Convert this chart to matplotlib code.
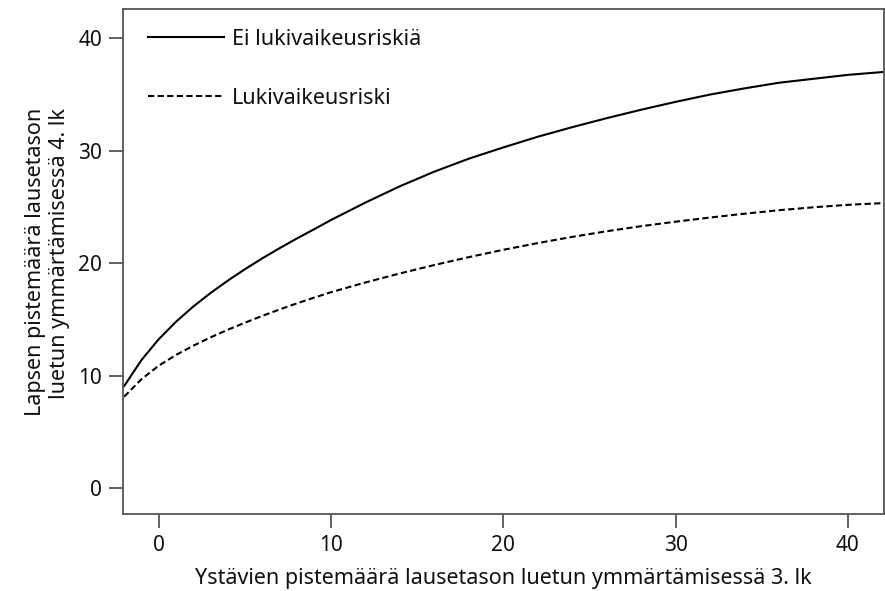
import matplotlib
matplotlib.use("Agg")
import matplotlib.pyplot as plt

plt.rcParams['font.family'] = ['Noto Sans', 'DejaVu Sans']

# x values (friends' score, grade 3)
x_vals = [-2, -1, 0, 1, 2, 3, 4, 5, 6, 7, 8, 9, 10, 12, 14, 16, 18, 20,
          22, 24, 26, 28, 30, 32, 34, 36, 38, 40, 42]
# Child's score, grade 4: no reading-difficulty risk
no_risk = [9.1, 11.4, 13.25, 14.8, 16.15, 17.35, 18.45, 19.47, 20.43, 21.33,
           22.19, 23.01, 23.85, 25.4, 26.85, 28.15, 29.3, 30.3, 31.25, 32.1,
           32.9, 33.65, 34.35, 35.0, 35.55, 36.05, 36.4, 36.75, 37.0]
# Child's score, grade 4: reading-difficulty risk
risk = [8.15, 9.7, 10.9, 11.85, 12.67, 13.41, 14.09, 14.72, 15.32, 15.89,
        16.43, 16.94, 17.43, 18.3, 19.1, 19.85, 20.55, 21.2, 21.8, 22.35,
        22.85, 23.3, 23.7, 24.07, 24.41, 24.72, 24.98, 25.2, 25.35]

series_labels = ["Ei lukivaikeusriskiä", "Lukivaikeusriski"]
x_ticks = [0, 10, 20, 30, 40]
y_ticks = [0, 10, 20, 30, 40]
x_label = "Ystävien pistemäärä lausetason luetun ymmärtämisessä 3. lk"
y_label = "Lapsen pistemäärä lausetason\nluetun ymmärtämisessä 4. lk"

fig = plt.figure(figsize=(8.85, 5.91), dpi=100)
ax = fig.add_axes([0.139, 0.1303, 0.8599, 0.854])

ax.plot(x_vals, no_risk, color='black', lw=1.5, label=series_labels[0])
ax.plot(x_vals, risk, color='black', lw=1.5, dashes=(3, 1.6),
        label=series_labels[1])

ax.set_xlim(-2.07, 42.1)
ax.set_ylim(-2.28, 42.58)
ax.set_xticks(x_ticks)
ax.set_yticks(y_ticks)

spine_col = '#555555'
for s in ax.spines.values():
    s.set_color(spine_col)
    s.set_linewidth(1.3)
ax.tick_params(axis='both', direction='out', length=10, width=1.3,
               color=spine_col, labelsize=15, labelcolor='#111111', pad=5)

ax.set_xlabel(x_label, fontsize=15.5, color='#111111', labelpad=9)
ax.set_ylabel(y_label, fontsize=15.5, color='#111111', labelpad=6,
              multialignment='right', linespacing=1.2)

leg = ax.legend(loc='upper left', frameon=False, fontsize=15.5,
                handlelength=3.52, handletextpad=0.36, labelspacing=1.75,
                bbox_to_anchor=(0.022, 0.978), borderaxespad=0.0)
for t in leg.get_texts():
    t.set_color('#111111')

fig.savefig("out.png", dpi=100)
